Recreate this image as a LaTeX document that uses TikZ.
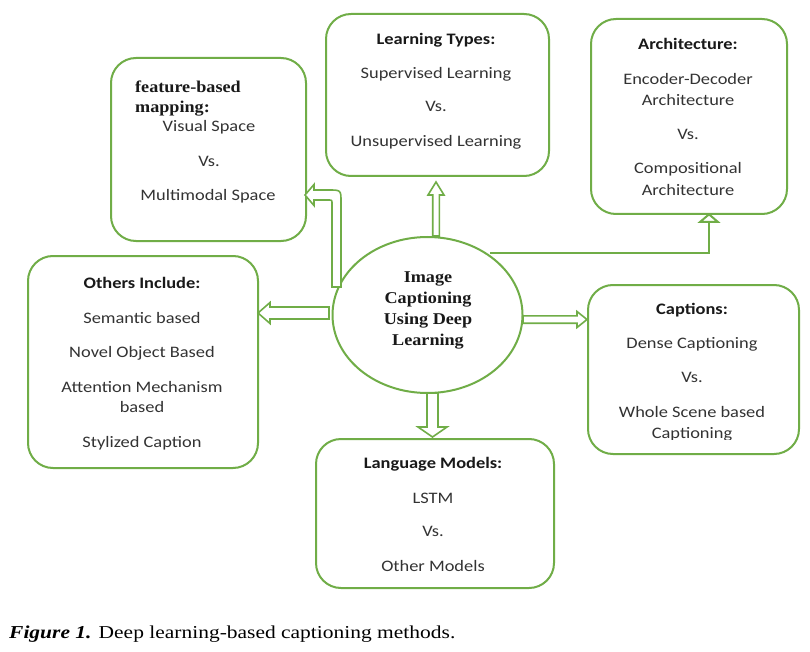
\documentclass[tikz,border=0pt]{standalone}
\usepackage{fontspec}
\setmainfont{Carlito}[FakeStretch=1.15]
\newfontfamily\tnr{Liberation Serif}[FakeStretch=1.1]
\newfontfamily\tnrc{Liberation Serif}[FakeStretch=1.18]
\usetikzlibrary{shapes.geometric,arrows.meta,calc}
\definecolor{grn}{HTML}{70AD47}
\definecolor{txt}{HTML}{333333}
\tikzset{
  box/.style={draw=grn, line width=2pt, rounded corners=25pt, inner sep=0pt, anchor=north west, fill=white},
  blk/.style={draw=grn, line width=1.6pt, fill=white, line join=miter},
  tl/.style={anchor=base, inner sep=0pt, text=txt, font=\fontsize{16}{19}\selectfont},
  hd/.style={anchor=base, inner sep=0pt, text=black!90, font=\fontsize{16}{19}\selectfont\bfseries},
  st/.style={anchor=base, inner sep=0pt, text=black!90, font=\fontsize{16.5}{20}\selectfont\tnr\bfseries},
}
\newcommand{\blockarrow}[5]{%
  \path ($(#2)!#5pt!(#1)$) coordinate (hb);
  \draw[blk] ($(#1)!#3pt!90:(#2)$) -- ($(hb)!#3pt!90:(#2)$) -- ($(hb)!#4pt!90:(#2)$) -- (#2)
    -- ($(hb)!#4pt!-90:(#2)$) -- ($(hb)!#3pt!-90:(#2)$) -- ($(#1)!#3pt!-90:(#2)$) -- cycle;}
\begin{document}
\begin{tikzpicture}[x=1pt,y=-1pt]
\useasboundingbox[fill=white] (0,0) rectangle (810,652);

% boxes
\node[box, minimum width=195, minimum height=183] (fb) at (110,57) {};
\node[box, minimum width=223, minimum height=162] (lt) at (325,13) {};
\node[box, minimum width=196, minimum height=195] (arch) at (590,18) {};
\node[box, minimum width=230, minimum height=212] (oth) at (27,255) {};
\node[box, minimum width=211, minimum height=169] (cap) at (587,284) {};
\node[box, minimum width=238, minimum height=149] (lm) at (315,438) {};

% central ellipse
\node[ellipse, draw=grn, line width=2pt, fill=white, minimum width=190, minimum height=156, inner sep=0pt] (ell) at (427.5,315) {};

% connectors
\coordinate (upS) at (436,236);
\coordinate (upT) at (436,182);
\blockarrow{upS}{upT}{3.3}{8}{13}

\coordinate (dnS) at (432.5,393);
\coordinate (dnT) at (432.5,437);
\blockarrow{dnS}{dnT}{5.5}{14.5}{10}

\coordinate (rtS) at (523,319.5);
\coordinate (rtT) at (587,319.5);
\blockarrow{rtS}{rtT}{3.7}{8}{10}

\coordinate (lfS) at (329,313);
\coordinate (lfT) at (258,313);
\blockarrow{lfS}{lfT}{6}{10.5}{12}

\coordinate (bS) at (336.5,287);
\coordinate (bT) at (305,195);
\draw[blk] ($(bS)+(-4.5,0)$) -- ($(bS)+(-4.5,-83)$) .. controls ($(bS)+(-4.5,-87)$) .. ($(bS)+(-8.5,-87)$)
  -- ($(bT)+(9,5)$) -- ($(bT)+(9,10.5)$) -- (bT) -- ($(bT)+(9,-10.5)$) -- ($(bT)+(9,-5)$)
  -- ($(bS)+(-8,-97)$) .. controls ($(bS)+(4.5,-97)$) .. ($(bS)+(4.5,-85)$) -- ($(bS)+(4.5,0)$) -- cycle;

\coordinate (aS) at (490,253);
\coordinate (aT) at (709,213);
\draw[draw=grn, line width=2pt, -{Triangle[open, length=10pt, width=23pt]}] (aS) -| (aT);

% texts: learning types
\node[hd] (lt1) at (436,45) {Learning Types:};
\node[tl] (lt2) at (436,79) {Supervised Learning};
\node[tl] (lt3) at (436,112) {Vs.};
\node[tl] (lt4) at (436,147) {Unsupervised Learning};

% architecture
\node[hd] (ar1) at (688,50) {Architecture:};
\node[tl] (ar2) at (688,85) {Encoder-Decoder};
\node[tl] (ar3) at (688,106) {Architecture};
\node[tl] (ar4) at (688,140) {Vs.};
\node[tl] (ar5) at (688,174) {Compositional};
\node[tl] (ar6) at (688,196) {Architecture};

% feature-based mapping
\node[st, anchor=base west] (fb1) at (135,93) {feature-based};
\node[st, anchor=base west] (fb2) at (135,113) {mapping:};
\node[tl] (fb3) at (209,132) {Visual Space};
\node[tl] (fb4) at (209,167) {Vs.};
\node[tl] (fb5) at (208,201) {Multimodal Space};

% others
\node[hd] (ot1) at (142,288) {Others Include:};
\node[tl] (ot2) at (142,323) {Semantic based};
\node[tl] (ot3) at (142,357) {Novel Object Based};
\node[tl] (ot4) at (142,392) {Attention Mechanism};
\node[tl] (ot5) at (142,412) {based};
\node[tl] (ot6) at (142,447) {Stylized Caption};

% captions
\node[hd] (ca1) at (692,314) {Captions:};
\node[tl] (ca2) at (692,348) {Dense Captioning};
\node[tl] (ca3) at (692,382) {Vs.};
\node[tl] (ca4) at (692,417) {Whole Scene based};
\begin{scope}
\clip (580,300) rectangle (805,439.5);
\node[tl] (ca5) at (692,438) {Captioning};
\end{scope}

% language models
\node[hd] (lm1) at (433,468) {Language Models:};
\node[tl] (lm2) at (433,503) {LSTM};
\node[tl] (lm3) at (433,536) {Vs.};
\node[tl] (lm4) at (433,571) {Other Models};

% ellipse text
\node[st] (e1) at (428,282) {Image};
\node[st] (e2) at (428,303) {Captioning};
\node[st] (e3) at (428,324) {Using Deep};
\node[st] (e4) at (428,345) {Learning};

% figure caption
\node[anchor=base west, inner sep=0pt, font=\fontsize{18.2}{22}\selectfont\tnrc] (fig) at (9,638) {\textbf{\textit{Figure 1.}} Deep learning-based captioning methods.};
\end{tikzpicture}
\end{document}
